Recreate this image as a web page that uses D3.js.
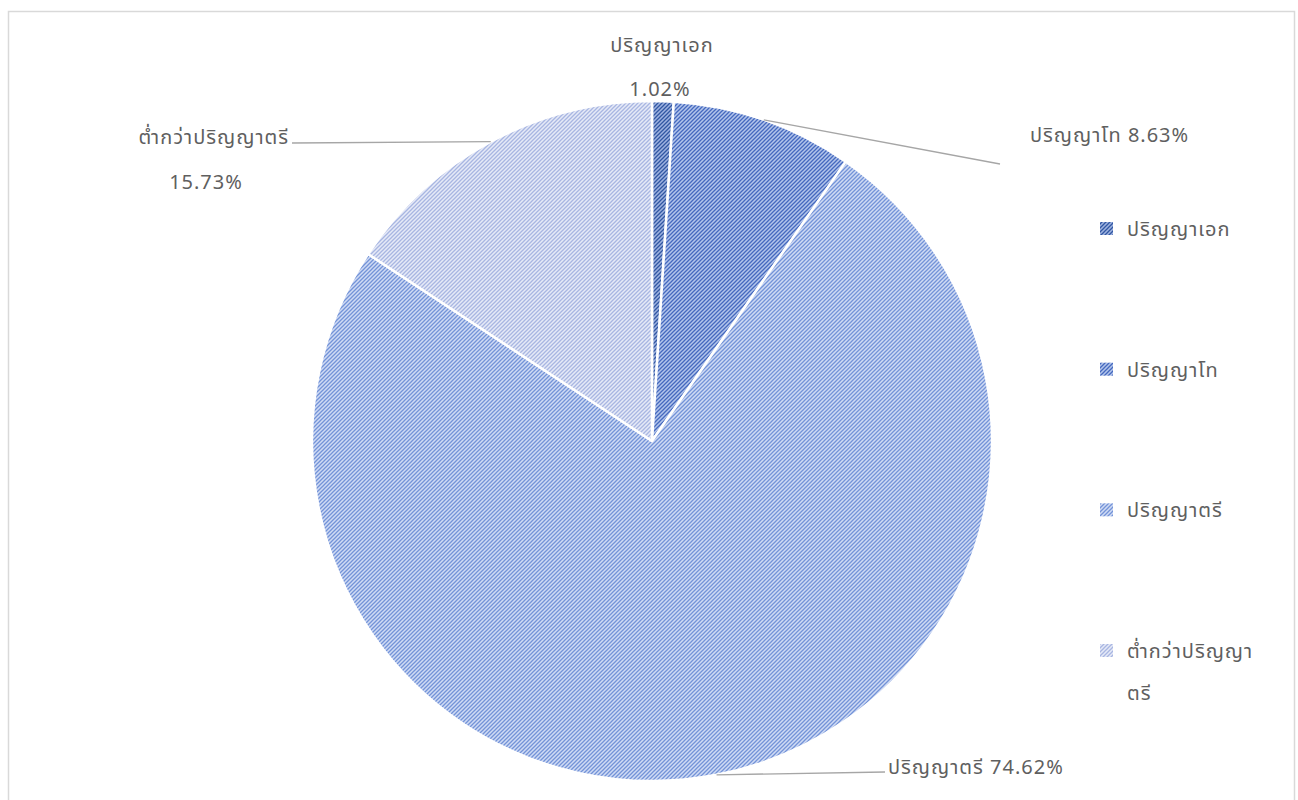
<!DOCTYPE html>
<html>
<head>
<meta charset="utf-8">
<script src="https://cdn.jsdelivr.net/npm/d3@7"></script>
<style>
  body { margin: 0; background: #fff; }
  svg text { font-family: "Noto Sans Thai", "Tahoma", "Noto Sans", sans-serif; fill: #5f5f5f; letter-spacing: 1px; }
</style>
</head>
<body>
<div class="canvas"></div>
<script>
// data
const categories = ["ปริญญาเอก", "ปริญญาโท", "ปริญญาตรี", "ต่ำกว่าปริญญาตรี"];
const shares = [1.02, 8.63, 74.62, 15.73];
const legendLines = [["ปริญญาเอก"], ["ปริญญาโท"], ["ปริญญาตรี"], ["ต่ำกว่าปริญญา", "ตรี"]];

const fgColors = ["#3157a3", "#4569bf", "#7393d8", "#a8b6e2"];
const bgColors = ["#9fb3e0", "#b3c5eb", "#d0dbf4", "#e6eaf7"];

const dims = { width: 1298, height: 800, radius: 340 };
const cent = { x: 652, y: 441 };

const svg = d3.select(".canvas")
  .append("svg")
  .attr("width", dims.width)
  .attr("height", dims.height);

// chart frame
svg.append("rect")
  .attr("x", 8.5).attr("y", 11.5)
  .attr("width", 1286).attr("height", 800)
  .attr("fill", "none")
  .attr("stroke", "#d9d9d9")
  .attr("stroke-width", 1.5);

// hatch patterns
const defs = svg.append("defs");
categories.forEach((c, i) => {
  const p = defs.append("pattern")
    .attr("id", "hatch" + i)
    .attr("patternUnits", "userSpaceOnUse")
    .attr("width", 4).attr("height", 4);
  p.append("rect").attr("width", 4).attr("height", 4).attr("fill", bgColors[i]);
  p.append("path")
    .attr("d", "M-1,1 l2,-2 M0,4 l4,-4 M3,5 l2,-2")
    .attr("stroke", fgColors[i])
    .attr("stroke-width", 1.3);
});

const pie = d3.pie().sort(null).value((d) => d);
const arcs = pie(shares);
const arcPath = d3.arc().outerRadius(dims.radius).innerRadius(0);

const graph = svg.append("g")
  .attr("transform", `translate(${cent.x}, ${cent.y})`);

graph.selectAll("path")
  .data(arcs)
  .enter()
  .append("path")
  .attr("d", arcPath)
  .attr("fill", (d, i) => `url(#hatch${i})`)
  .attr("stroke", "#fff")
  .attr("stroke-width", 2.5)
  .attr("stroke-linejoin", "round");

// data labels (positions relative to centre)
const fmt = (v) => v.toFixed(2) + "%";
const edge = (d) => {
  const a = (d.startAngle + d.endAngle) / 2;
  return [dims.radius * Math.sin(a), -dims.radius * Math.cos(a)];
};
const labelLayout = [
  { lines: [[10, -389, categories[0], "middle"], [8, -345, fmt(shares[0]), "middle"]], leader: null },
  { lines: [[378, -299, categories[1] + " " + fmt(shares[1]), "start"]], leader: [348, -277] },
  { lines: [[236, 333, categories[2] + " " + fmt(shares[2]), "start"]], leader: [233, 331] },
  { lines: [[-363, -297, categories[3], "end"], [-446, -252, fmt(shares[3]), "middle"]], leader: [-360, -298] },
];

const labels = graph.append("g");
arcs.forEach((d, i) => {
  const L = labelLayout[i];
  if (L.leader) {
    labels.append("path")
      .attr("d", d3.line()([edge(d), L.leader]))
      .attr("fill", "none")
      .attr("stroke", "#a6a6a6")
      .attr("stroke-width", 1.3);
  }
  L.lines.forEach(([x, y, t, anchor]) => {
    labels.append("text")
      .attr("x", x).attr("y", y)
      .attr("text-anchor", anchor)
      .attr("font-size", 20)
      .text(t);
  });
});

// legend
const legendY = d3.scalePoint().domain(categories).range([230, 652]);
const legend = svg.append("g").attr("transform", "translate(1100, 0)");
categories.forEach((c, i) => {
  const y = legendY(c);
  legend.append("rect")
    .attr("x", 0).attr("y", y - 8)
    .attr("width", 13).attr("height", 13)
    .attr("fill", `url(#hatch${i})`);
  legendLines[i].forEach((t, j) => {
    legend.append("text")
      .attr("x", 27).attr("y", y + 6 + j * 42)
      .attr("font-size", 20)
      .text(t);
  });
});
</script>
</body>
</html>
